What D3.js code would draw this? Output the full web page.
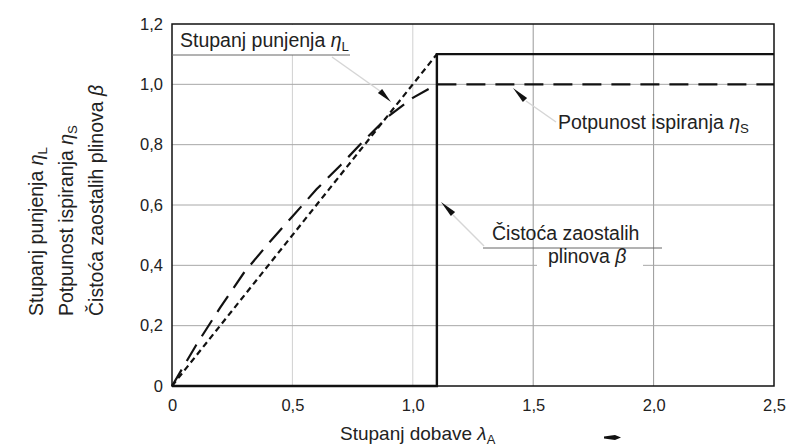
<!DOCTYPE html>
<html>
<head>
<meta charset="utf-8">
<script src="https://cdn.jsdelivr.net/npm/d3@7"></script>
<style>
  body { margin: 0; background: #fff; }
  text { font-family: "Liberation Sans", Arial, sans-serif; fill: #222; }
</style>
</head>
<body>
<svg id="chart" width="787" height="448"></svg>
<script>
const xTicks = [0, 0.5, 1.0, 1.5, 2.0, 2.5];
const yTicks = [0, 0.2, 0.4, 0.6, 0.8, 1.0, 1.2];

// stupanj punjenja eta_L (short dashes)
const etaL = [[0, 0], [1.1, 1.1]];
// potpunost ispiranja eta_S (long dashes)
const etaS = [[0, 0], [0.1, 0.135], [0.2, 0.26], [0.3, 0.377], [0.4, 0.472], [0.5, 0.562],
              [0.6, 0.652], [0.7, 0.732], [0.8, 0.816], [0.9, 0.895], [1.0, 0.955], [1.1, 1.0], [2.5, 1.0]];
// cistoca zaostalih plinova beta (solid)
const beta = [[0, 0], [1.1, 0], [1.1, 1.1], [2.5, 1.1]];

const svg = d3.select("#chart");
const x = d3.scaleLinear().domain([0, 2.5]).range([172, 774]);
const y = d3.scaleLinear().domain([0, 1.2]).range([386, 24]);
const fmt = d => d === 0 ? "0" : d3.format(".1f")(d).replace(".", ",");

// grid
const grid = svg.append("g").attr("stroke", "#a8a8a8").attr("stroke-width", 1);
grid.selectAll("line.v").data(xTicks.slice(1, -1)).join("line")
    .attr("x1", d => x(d)).attr("x2", d => x(d)).attr("y1", y(0)).attr("y2", y(1.2))
    .attr("stroke", d => d < 1.1 ? "#d0d0d0" : "#999");
grid.selectAll("line.h").data(yTicks.slice(1, -1)).join("line")
    .attr("x1", x(0)).attr("x2", x(2.5)).attr("y1", d => y(d)).attr("y2", d => y(d));

// white boxes under labels
svg.append("rect").attr("x", x(0) + 1).attr("y", y(1.2) + 1).attr("width", 178).attr("height", 30).attr("fill", "#fff");
svg.append("rect").attr("x", 537).attr("y", y(0.4) - 5).attr("width", 106).attr("height", 10).attr("fill", "#fff");

// faint leader lines
const lead = svg.append("g").attr("stroke", "#d6d6d6").attr("stroke-width", 1.5).attr("fill", "none");
lead.append("line").attr("x1", 332).attr("y1", 57).attr("x2", 380).attr("y2", 91);
lead.append("line").attr("x1", 526).attr("y1", 101).attr("x2", 556).attr("y2", 122);
lead.append("line").attr("x1", 453).attr("y1", 215).attr("x2", 484).attr("y2", 246);

// frame
svg.append("rect").attr("x", x(0)).attr("y", y(1.2))
    .attr("width", x(2.5) - x(0)).attr("height", y(0) - y(1.2))
    .attr("fill", "none").attr("stroke", "#111").attr("stroke-width", 1.5);

// axes
const xAxis = svg.append("g").attr("transform", `translate(0,${y(0)})`)
    .call(d3.axisBottom(x).tickValues(xTicks).tickSize(0).tickPadding(13).tickFormat(fmt));
const yAxis = svg.append("g").attr("transform", `translate(${x(0)},0)`)
    .call(d3.axisLeft(y).tickValues(yTicks).tickSize(0).tickPadding(9).tickFormat(fmt));
[xAxis, yAxis].forEach(a => {
  a.select(".domain").remove();
  a.selectAll("text").attr("font-size", 16.5).attr("font-family", null).attr("fill", "#222");
});

// curves
const line = d3.line().x(d => x(d[0])).y(d => y(d[1]));
svg.append("path").datum(beta).attr("d", line)
    .attr("fill", "none").attr("stroke", "#111").attr("stroke-width", 2.4);
svg.append("path").datum(etaL).attr("d", line)
    .attr("fill", "none").attr("stroke", "#111").attr("stroke-width", 2.2).attr("stroke-dasharray", "6,4");
svg.append("path").datum(etaS).attr("d", line)
    .attr("fill", "none").attr("stroke", "#111").attr("stroke-width", 2.2).attr("stroke-dasharray", "19,10");

// small wedges pointing at the curves
function wedge(tx, ty, bx, by, w) {
  const dx = bx - tx, dy = by - ty, len = Math.hypot(dx, dy);
  const nx = -dy / len * w / 2, ny = dx / len * w / 2;
  svg.append("path").attr("fill", "#111")
      .attr("d", `M${tx},${ty}L${bx + nx},${by + ny}L${bx - nx},${by - ny}Z`);
}
wedge(391, 102, 380, 91, 6);
wedge(513, 88, 525, 100, 6);
wedge(441, 202, 453, 214, 6);

// labels
function label(tx, ty, parts, size) {
  const t = svg.append("text").attr("x", tx).attr("y", ty).attr("font-size", size);
  parts.forEach(p => {
    const s = t.append("tspan").text(p.t);
    if (p.i) s.attr("font-style", "italic");
    if (p.sub) s.attr("font-size", size * 0.68).attr("dy", size * 0.22);
  });
  return t;
}
label(180, 47, [{t: "Stupanj punjenja "}, {t: "η", i: 1}, {t: "L", sub: 1}], 19.5);
svg.append("line").attr("x1", x(0)).attr("x2", 350).attr("y1", 55).attr("y2", 55)
    .attr("stroke", "#666").attr("stroke-width", 1);

label(558, 129, [{t: "Potpunost ispiranja "}, {t: "η", i: 1}, {t: "S", sub: 1}], 19.5);

label(492, 240, [{t: "Čistoća zaostalih"}], 19.5);
svg.append("line").attr("x1", 483).attr("x2", 662).attr("y1", 248).attr("y2", 248)
    .attr("stroke", "#666").attr("stroke-width", 1);
label(548, 263, [{t: "plinova "}, {t: "β", i: 1}], 19.5);

// x axis title and arrow
label(340, 440, [{t: "Stupanj dobave "}, {t: "λ", i: 1}, {t: "A", sub: 1}], 19);
svg.append("path").attr("fill", "#111")
    .attr("d", "M604,436.5L615,435L621,437.5L615,440L604,438.5Z");

// y axis title, three rotated lines
const yTitle = [
  [{t: "Stupanj punjenja "}, {t: "η", i: 1}, {t: "L", sub: 1}],
  [{t: "Potpunost ispiranja "}, {t: "η", i: 1}, {t: "S", sub: 1}],
  [{t: "Čistoća zaostalih plinova "}, {t: "β", i: 1}]
];
yTitle.forEach((parts, i) => {
  label(0, 0, parts, 19.5).attr("transform", `translate(${43 + i * 30},316) rotate(-90)`);
});
</script>
</body>
</html>
